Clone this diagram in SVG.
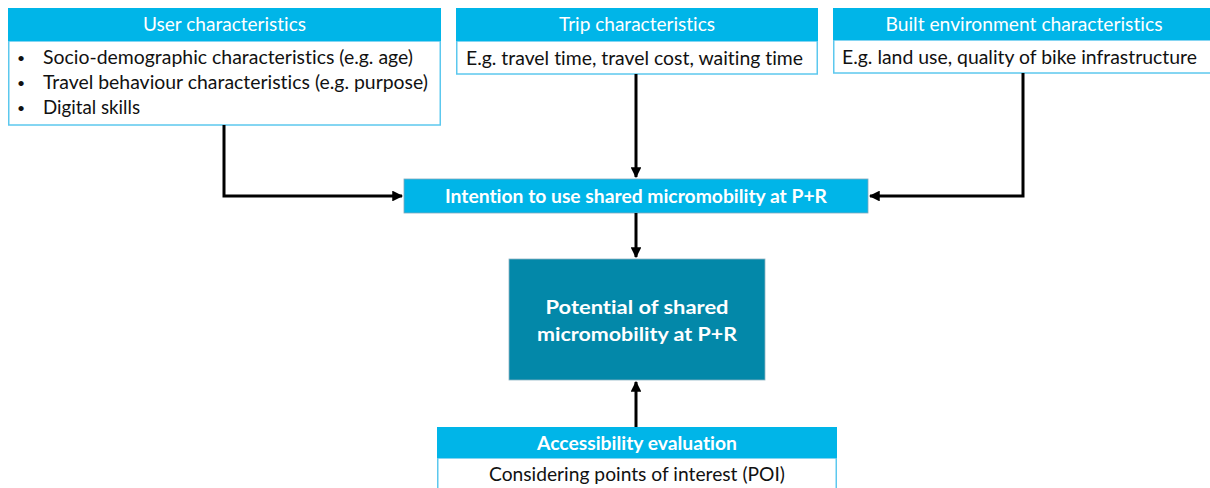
<svg xmlns="http://www.w3.org/2000/svg" width="1210" height="488" viewBox="0 0 1210 488">
<style>
text{font-variant-ligatures:none}
.hdr{fill:#00B5E8}
.body{fill:#ffffff;stroke:#5CC8EE;stroke-width:1.5}
.ht{font-family:Lato,"Open Sans",sans-serif;font-size:19.5px;fill:#ffffff;text-anchor:middle}
.bt{font-family:Lato,"Open Sans",sans-serif;font-size:19.5px;fill:#111111}
.bul{font-family:Lato,"Open Sans",sans-serif;font-size:14px;fill:#111111}
.bold{font-weight:bold}
.conn{fill:none;stroke:#000000;stroke-width:3}
</style>
<defs>
<marker id="arr" viewBox="0 0 10 10" refX="9" refY="5" markerWidth="3.6" markerHeight="3.6" orient="auto" markerUnits="strokeWidth">
<path d="M0,0 L10,5 L0,10 Z" fill="#000"/>
</marker>
</defs>
<rect width="1210" height="488" fill="#ffffff"/>
<g id="user">
<rect class="body" x="8.75" y="41" width="431.5" height="84"/>
<rect class="hdr" x="8" y="8" width="433" height="33"/>
<text class="ht" x="224.5" y="31" textLength="163" lengthAdjust="spacingAndGlyphs">User characteristics</text>
<text class="bul" x="17" y="63">•</text>
<text class="bt" x="43" y="64" textLength="370" lengthAdjust="spacingAndGlyphs">Socio-demographic characteristics (e.g. age)</text>
<text class="bul" x="17" y="88">•</text>
<text class="bt" x="43" y="89" textLength="385" lengthAdjust="spacingAndGlyphs">Travel behaviour characteristics (e.g. purpose)</text>
<text class="bul" x="17" y="113">•</text>
<text class="bt" x="43" y="114" textLength="97" lengthAdjust="spacingAndGlyphs">Digital skills</text>
</g>
<g id="trip">
<rect class="body" x="456.75" y="41" width="360.5" height="33"/>
<rect class="hdr" x="456" y="8" width="362" height="33"/>
<text class="ht" x="637" y="31" textLength="156" lengthAdjust="spacingAndGlyphs">Trip characteristics</text>
<text class="bt" x="466" y="65" textLength="337" lengthAdjust="spacingAndGlyphs">E.g. travel time, travel cost, waiting time</text>
</g>
<g id="built">
<rect class="body" x="833.75" y="40" width="380" height="33"/>
<rect class="hdr" x="833" y="8" width="380" height="32"/>
<text class="ht" x="1024" y="31" textLength="277" lengthAdjust="spacingAndGlyphs">Built environment characteristics</text>
<text class="bt" x="842" y="64" textLength="355" lengthAdjust="spacingAndGlyphs">E.g. land use, quality of bike infrastructure</text>
</g>
<g id="intention">
<rect class="hdr" x="404" y="179" width="464" height="34" stroke="#7FA9BC" stroke-width="0.8"/>
<text class="ht bold" x="636" y="203" textLength="382" lengthAdjust="spacingAndGlyphs">Intention to use shared micromobility at P+R</text>
</g>
<g id="potential">
<rect x="509" y="259" width="256" height="121" fill="#0388A9" stroke="#8FB3C3" stroke-width="0.8"/>
<text class="ht bold" x="637" y="314" font-size="23.5" textLength="183" lengthAdjust="spacingAndGlyphs">Potential of shared</text>
<text class="ht bold" x="637" y="341" font-size="23.5" textLength="200" lengthAdjust="spacingAndGlyphs">micromobility at P+R</text>
</g>
<g id="accessibility">
<rect class="body" x="437.75" y="458" width="398.5" height="32"/>
<rect class="hdr" x="437" y="427" width="400" height="31"/>
<text class="ht bold" x="637" y="450" textLength="200" lengthAdjust="spacingAndGlyphs">Accessibility evaluation</text>
<text class="bt" x="637" y="481" text-anchor="middle" textLength="296" lengthAdjust="spacingAndGlyphs">Considering points of interest (POI)</text>
</g>
<g id="connectors">
<path class="conn" d="M224,125 V196 H402" marker-end="url(#arr)"/>
<path class="conn" d="M636,74 V177" marker-end="url(#arr)"/>
<path class="conn" d="M1023,73 V196 H870" marker-end="url(#arr)"/>
<path class="conn" d="M636,213 V257" marker-end="url(#arr)"/>
<path class="conn" d="M636,427 V382" marker-end="url(#arr)"/>
</g>
</svg>
